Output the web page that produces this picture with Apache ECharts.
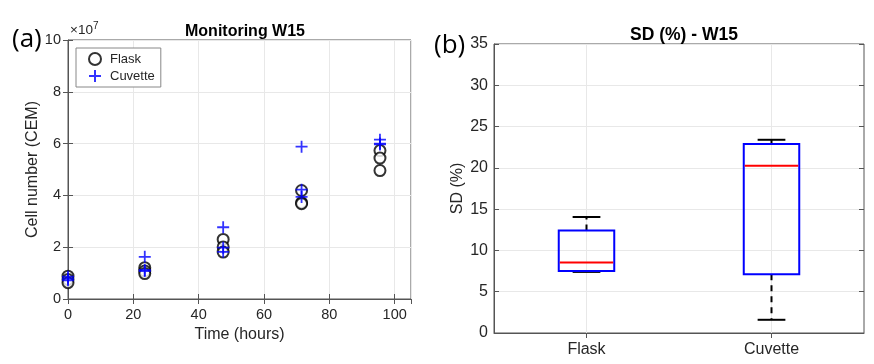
<!DOCTYPE html>
<html><head><meta charset="utf-8">
<script src="https://cdn.jsdelivr.net/npm/echarts@6/dist/echarts.min.js"></script>
<style>html,body{margin:0;padding:0;background:#fff}#c{width:874px;height:364px}</style>
</head><body><div id="c"></div>
<script>
// ---- Data: panel (a) cell counts, in units of 1e7 ----
const times = [0, 23.5, 47.5, 71.5, 95.5];
const flaskCounts = [
  [0.88, 0.75, 0.63],
  [1.21, 1.08, 0.98],
  [2.30, 2.01, 1.81],
  [4.19, 3.72, 3.68],
  [5.73, 5.44, 4.96]
];
const cuvetteCounts = [
  [0.86, 0.78, 0.72],
  [1.63, 1.12, 1.08],
  [2.77, 1.98, 1.82],
  [5.88, 4.22, 3.94],
  [6.15, 6.00, 5.97]
];
// ---- Data: panel (b) SD (%) box statistics ----
const boxCategories = ['Flask', 'Cuvette'];
const sdMin    = [7.4, 1.6];
const sdQ1     = [7.5, 7.1];
const sdMedian = [8.55, 20.25];
const sdQ3     = [12.4, 22.9];
const sdMax    = [14.05, 23.4];

const FONT = '"Liberation Sans", Arial, Helvetica, sans-serif';
const TXT = '#262626';
const AX = '#555555';
const GRIDC = '#e8e8e8';

const flaskData = times.flatMap((t, i) => flaskCounts[i].map(v => [t, v]));
const cuvetteData = times.flatMap((t, i) => cuvetteCounts[i].map(v => [t, v]));
const boxData = boxCategories.map((c, i) => [i, sdMin[i], sdQ1[i], sdMedian[i], sdQ3[i], sdMax[i]]);

const crossPath = 'path://M5,0 L5,10 M0,5 L10,5';

const tickIn = { show: true, inside: true, length: 5, lineStyle: { color: AX, width: 1 } };
const noLine = { show: false };

const chart = echarts.init(document.getElementById('c'), null, { renderer: 'canvas' });
chart.setOption({
  animation: false,
  backgroundColor: '#fff',
  textStyle: { fontFamily: FONT },
  title: [
    { text: 'Monitoring W15', left: 240, top: 19, textAlign: 'center',
      textStyle: { fontFamily: FONT, fontSize: 16, fontWeight: 'bold', color: '#000' } },
    { text: 'SD (%) - W15', left: 679, top: 21, textAlign: 'center',
      textStyle: { fontFamily: FONT, fontSize: 17.5, fontWeight: 'bold', color: '#000' } }
  ],
  grid: [
    { left: 68, right: 463, top: 40, bottom: 65, show: true, borderColor: AX, borderWidth: 1, containLabel: false },
    { left: 494, right: 10, top: 44, bottom: 31, show: true, borderColor: AX, borderWidth: 1, containLabel: false }
  ],
  legend: {
    left: 76, top: 48, orient: 'vertical',
    padding: [4, 6, 4, 12], itemGap: 3,
    itemWidth: 12, itemHeight: 12,
    borderColor: '#888', borderWidth: 1, backgroundColor: '#fff',
    textStyle: { fontFamily: FONT, fontSize: 13, color: TXT, padding: [0, 0, 0, 4] },
    data: ['Flask', 'Cuvette']
  },
  xAxis: [
    { type: 'value', gridIndex: 0, min: 0, max: 105, interval: 20,
      name: 'Time (hours)', nameLocation: 'middle', nameGap: 28,
      nameTextStyle: { fontFamily: FONT, fontSize: 16, color: TXT },
      axisLine: { show: true, lineStyle: { color: AX } }, axisTick: tickIn,
      axisLabel: { fontFamily: FONT, fontSize: 14.5, color: TXT, margin: 8, showMaxLabel: false },
      splitLine: { show: true, lineStyle: { color: GRIDC } } },
    { type: 'value', gridIndex: 0, position: 'top', min: 0, max: 105, interval: 20,
      axisLine: noLine, axisTick: tickIn, axisLabel: { show: false }, splitLine: { show: false } },
    { type: 'category', gridIndex: 1, data: boxCategories, boundaryGap: true,
      axisLine: { show: true, lineStyle: { color: AX } },
      axisTick: Object.assign({}, tickIn, { alignWithLabel: true }),
      axisLabel: { fontFamily: FONT, fontSize: 16, color: TXT, margin: 9 },
      splitLine: { show: false } },
    { type: 'category', gridIndex: 1, position: 'top', data: boxCategories, boundaryGap: true,
      axisLine: noLine, axisTick: Object.assign({}, tickIn, { alignWithLabel: true }),
      axisLabel: { show: false }, splitLine: { show: false } }
  ],
  yAxis: [
    { type: 'value', gridIndex: 0, min: 0, max: 10, interval: 2,
      name: 'Cell number (CEM)', nameLocation: 'middle', nameGap: 25,
      nameTextStyle: { fontFamily: FONT, fontSize: 16, color: TXT },
      axisLine: { show: true, lineStyle: { color: AX } }, axisTick: tickIn,
      axisLabel: { fontFamily: FONT, fontSize: 14.5, color: TXT, margin: 7 },
      splitLine: { show: true, lineStyle: { color: GRIDC } } },
    { type: 'value', gridIndex: 0, position: 'right', min: 0, max: 10, interval: 2,
      axisLine: noLine, axisTick: tickIn, axisLabel: { show: false }, splitLine: { show: false } },
    { type: 'value', gridIndex: 1, min: 0, max: 35, interval: 5,
      name: 'SD (%)', nameLocation: 'middle', nameGap: 28,
      nameTextStyle: { fontFamily: FONT, fontSize: 16, color: TXT },
      axisLine: { show: true, lineStyle: { color: AX } }, axisTick: tickIn,
      axisLabel: { fontFamily: FONT, fontSize: 16, color: TXT, margin: 6 },
      splitLine: { show: true, lineStyle: { color: GRIDC } } },
    { type: 'value', gridIndex: 1, position: 'right', min: 0, max: 35, interval: 5,
      axisLine: noLine, axisTick: tickIn, axisLabel: { show: false }, splitLine: { show: false } }
  ],
  series: [
    { name: 'Flask', type: 'scatter', xAxisIndex: 0, yAxisIndex: 0,
      symbol: 'emptyCircle', symbolSize: 11,
      itemStyle: { color: '#000', borderColor: '#000', borderWidth: 1.6 },
      data: flaskData, z: 3 },
    { name: 'Cuvette', type: 'scatter', xAxisIndex: 0, yAxisIndex: 0,
      symbol: crossPath, symbolSize: 12,
      itemStyle: { color: '#0000ff', borderColor: '#0000ff', borderWidth: 1.8 },
      data: cuvetteData, z: 4 },
    { type: 'custom', xAxisIndex: 2, yAxisIndex: 2,
      encode: { x: 0, y: [1, 2, 3, 4, 5] },
      data: boxData,
      renderItem: function (params, api) {
        const i = api.value(0);
        const cs = params.coordSys;
        const x = api.coord([i, 0])[0];
        const band = api.size([1, 0])[0];
        const bw = band * 0.3, cw = band * 0.15;
        const yMin = api.coord([i, api.value(1)])[1];
        const yQ1 = api.coord([i, api.value(2)])[1];
        const yMed = api.coord([i, api.value(3)])[1];
        const yQ3 = api.coord([i, api.value(4)])[1];
        const yMax = api.coord([i, api.value(5)])[1];
        const dash = { stroke: '#000', lineWidth: 2, lineDash: [6, 5] };
        const solid = { stroke: '#000', lineWidth: 2 };
        return { type: 'group', children: [
          { type: 'line', shape: { x1: x, y1: cs.y, x2: x, y2: cs.y + cs.height },
            style: { stroke: GRIDC, lineWidth: 1 }, z2: 0 },
          { type: 'line', shape: { x1: x, y1: yQ3, x2: x, y2: yMax }, style: dash, z2: 1 },
          { type: 'line', shape: { x1: x, y1: yQ1, x2: x, y2: yMin }, style: dash, z2: 1 },
          { type: 'line', shape: { x1: x - cw / 2, y1: yMax, x2: x + cw / 2, y2: yMax }, style: solid, z2: 1 },
          { type: 'line', shape: { x1: x - cw / 2, y1: yMin, x2: x + cw / 2, y2: yMin }, style: solid, z2: 1 },
          { type: 'rect', shape: { x: x - bw / 2, y: yQ3, width: bw, height: yQ1 - yQ3 },
            style: { fill: 'none', stroke: '#0000ff', lineWidth: 2 }, z2: 2 },
          { type: 'line', shape: { x1: x - bw / 2 + 1, y1: yMed, x2: x + bw / 2 - 1, y2: yMed },
            style: { stroke: '#ff0000', lineWidth: 2 }, z2: 3 }
        ] };
      } }
  ],
  graphic: [
    { type: 'text', left: 12, top: 27, style: { text: '(a)', fontFamily: '"Open Sans", sans-serif', fontSize: 26, fill: '#000' } },
    { type: 'text', left: 434, top: 33, style: { text: '(b)', fontFamily: '"Open Sans", sans-serif', fontSize: 26, fill: '#000' } },
    { type: 'text', left: 70, top: 21, style: {
        text: '×10{s|7}', fontFamily: FONT, fontSize: 13.5, fill: TXT,
        rich: { s: { fontSize: 10, fill: TXT, verticalAlign: 'top', padding: [0, 0, 8, 0], fontFamily: FONT } } } }
  ]
});
</script>
</body></html>
